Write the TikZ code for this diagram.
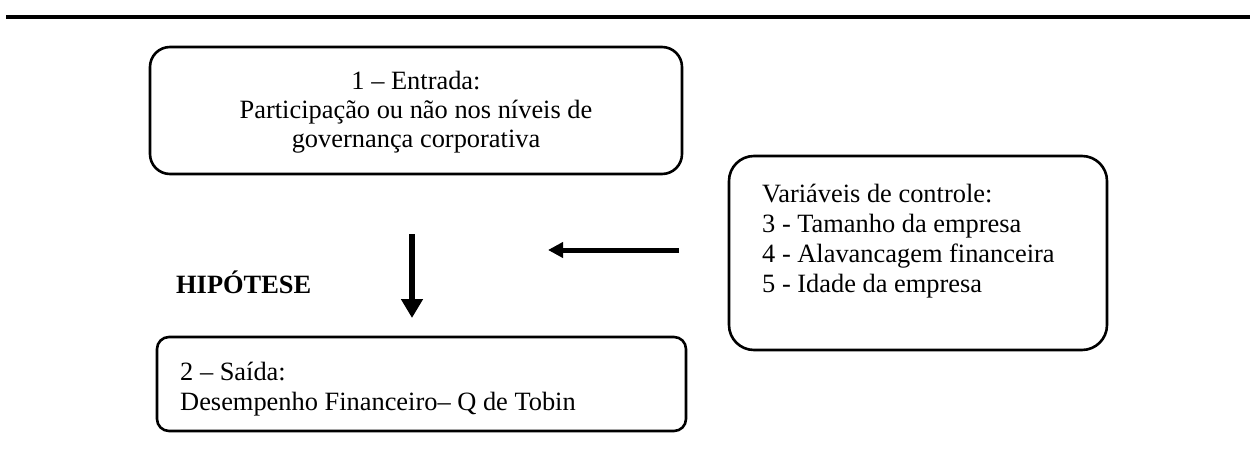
\documentclass[tikz,border=0pt]{standalone}
\usepackage{fontspec}
\setmainfont{Liberation Serif}
\usetikzlibrary{arrows.meta}
\tikzset{
  box/.style={draw, line width=2.6pt, rounded corners=#1, inner sep=0pt},
  txt/.style={inner sep=0pt, anchor=base west, font=\fontsize{26.4}{30}\selectfont},
  ctxt/.style={inner sep=0pt, anchor=base, font=\fontsize{26.4}{29}\selectfont},
  fatarrow/.style={line width=6pt, -{Triangle[width=21pt,length=19pt]}},
  thinarrow/.style={line width=5pt, -{Triangle[width=15pt,length=15pt]}}
}
\begin{document}
\begin{tikzpicture}[x=1pt,y=-1pt]
\useasboundingbox (0,0) rectangle (1250,458);
\coordinate (ls) at (6,17);
\coordinate (le) at (1250,17);
\draw[line width=4pt] (ls) -- (le);
\node[box=20pt, minimum width=532pt, minimum height=127pt] (b1) at (416,110.5) {};
\node[box=12pt, minimum width=529pt, minimum height=94pt] (b2) at (421.5,384) {};
\node[box=25pt, minimum width=378pt, minimum height=194pt] (b3) at (918,253) {};
\node[ctxt] (t1) at (416,89) {\begin{tabular}[t]{@{}c@{}}1 – Entrada:\\ Participação ou não nos níveis de\\ governança corporativa\end{tabular}};
\node[txt] (t2) at (180,380) {\begin{tabular}[t]{@{}l@{}}2 – Saída:\\ Desempenho Financeiro– Q de Tobin\end{tabular}};
\node[txt] (t3) at (762,202) {\begin{tabular}[t]{@{}l@{}}Variáveis de controle:\\ 3 - Tamanho da empresa\\ 4 - Alavancagem financeira\\ 5 - Idade da empresa\end{tabular}};
\node[txt, font=\fontsize{26.4}{30}\selectfont\bfseries] (hip) at (176,293) {HIPÓTESE};
\coordinate (d1) at (412,234);
\coordinate (d2) at (412,318);
\coordinate (h1) at (679,250);
\coordinate (h2) at (548,250);
\draw[fatarrow] (d1) -- (d2);
\draw[thinarrow] (h1) -- (h2);
\end{tikzpicture}
\end{document}
